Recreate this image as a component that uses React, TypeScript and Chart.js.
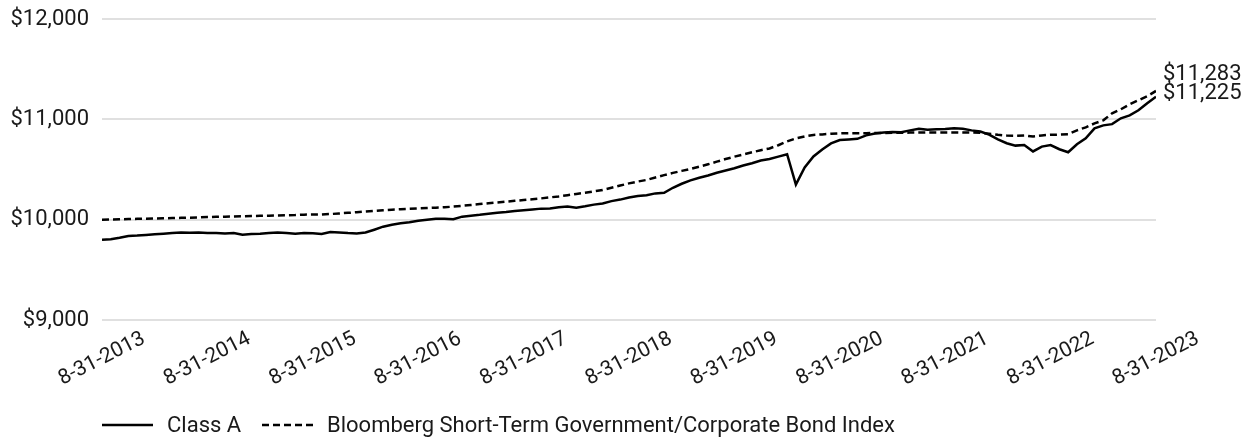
import React, { useEffect, useRef } from 'react';
import { Chart, registerables } from 'chart.js';

Chart.register(...registerables);

// Monthly values, 8-31-2013 .. 8-31-2023 (121 points)
const classA: number[] = [
  9800, 9805, 9820, 9838, 9842, 9848, 9855, 9860, 9866, 9872, 9870, 9872,
  9868, 9866, 9862, 9868, 9850, 9856, 9860, 9866, 9872, 9866, 9860, 9866,
  9864, 9858, 9878, 9872, 9866, 9862, 9872, 9900, 9930, 9950, 9964, 9975,
  9990, 10000, 10010, 10008, 10004, 10030, 10040, 10048, 10058, 10068, 10076, 10086,
  10094, 10102, 10110, 10112, 10124, 10132, 10120, 10134, 10150, 10162, 10185, 10200,
  10220, 10236, 10244, 10262, 10268, 10318, 10358, 10392, 10418, 10440, 10468, 10490,
  10512, 10540, 10562, 10590, 10604, 10628, 10652, 10350, 10520, 10630, 10700, 10760,
  10794, 10800, 10806, 10840, 10858, 10868, 10874, 10872, 10890, 10905, 10896, 10902,
  10904, 10912, 10906, 10890, 10878, 10848, 10800, 10762, 10738, 10745, 10680, 10728,
  10744, 10702, 10672, 10752, 10810, 10910, 10940, 10952, 11010, 11040, 11090, 11160,
  11225,
];

const bondIndex: number[] = [
  10000, 10002, 10004, 10006, 10008, 10010, 10012, 10014, 10016, 10018, 10020, 10022,
  10026, 10028, 10030, 10032, 10034, 10036, 10038, 10040, 10042, 10044, 10046, 10050,
  10052, 10052, 10056, 10062, 10068, 10074, 10082, 10088, 10094, 10100, 10104, 10108,
  10112, 10116, 10120, 10124, 10130, 10138, 10146, 10155, 10164, 10172, 10180, 10188,
  10196, 10204, 10212, 10222, 10232, 10244, 10256, 10268, 10282, 10296, 10318, 10340,
  10362, 10380, 10396, 10420, 10444, 10466, 10486, 10506, 10528, 10552, 10578, 10604,
  10628, 10650, 10672, 10692, 10710, 10742, 10780, 10810, 10830, 10844, 10850, 10856,
  10860, 10862, 10862, 10862, 10864, 10864, 10866, 10866, 10868, 10868, 10870, 10870,
  10870, 10870, 10869, 10868, 10866, 10856, 10846, 10838, 10836, 10840, 10828, 10840,
  10846, 10848, 10852, 10890, 10920, 10960, 10990, 11060, 11100, 11150, 11190, 11230,
  11283,
];

const xTickLabels: string[] = [
  '8-31-2013', '8-31-2014', '8-31-2015', '8-31-2016', '8-31-2017', '8-31-2018',
  '8-31-2019', '8-31-2020', '8-31-2021', '8-31-2022', '8-31-2023',
];

const seriesNames: string[] = [
  'Class A',
  'Bloomberg Short-Term Government/Corporate Bond Index',
];

const yMin = 9000;
const yMax = 12000;
const yStep = 1000;

const FONT = 'Roboto, "Liberation Sans", Arial, sans-serif';
const TEXT = '#1a1a1a';

const fmt = (v: number) => '$' + Math.round(v).toLocaleString('en-US');

export default function App() {
  const ref = useRef<HTMLCanvasElement | null>(null);

  useEffect(() => {
    document.body.style.margin = '0';
    const canvas = ref.current;
    if (!canvas) return;

    const overlay = {
      id: 'overlay',
      afterDraw(chart: any) {
        const c: CanvasRenderingContext2D = chart.ctx;
        const xs = chart.scales.x;
        const ys = chart.scales.y;
        const area = chart.chartArea;
        c.save();
        c.fillStyle = TEXT;

        // rotated x tick labels centred on each yearly tick
        c.font = `21px ${FONT}`;
        c.textAlign = 'center';
        c.textBaseline = 'middle';
        xTickLabels.forEach((lab, k) => {
          const x = xs.getPixelForValue(k * 12);
          c.save();
          c.translate(x, area.bottom + 39);
          c.rotate((-27 * Math.PI) / 180);
          c.fillText(lab, 0, 0);
          c.restore();
        });

        // end value labels
        c.font = `22px ${FONT}`;
        c.textAlign = 'left';
        const lastA = classA[classA.length - 1];
        const lastB = bondIndex[bondIndex.length - 1];
        const items = [lastA, lastB]
          .map((v) => ({ v, y: ys.getPixelForValue(v) - 3 }))
          .sort((a, b) => b.y - a.y);
        for (let i = 1; i < items.length; i++) {
          items[i].y = Math.min(items[i].y, items[i - 1].y - 19);
        }
        items.forEach((it) => c.fillText(fmt(it.v), area.right + 7, it.y));

        // legend
        const ly = 425;
        c.strokeStyle = '#000';
        c.lineWidth = 2.5;
        c.setLineDash([]);
        c.beginPath();
        c.moveTo(area.left, ly);
        c.lineTo(area.left + 51, ly);
        c.stroke();
        c.setLineDash([7, 4]);
        c.beginPath();
        c.moveTo(area.left + 160, ly);
        c.lineTo(area.left + 211, ly);
        c.stroke();
        c.setLineDash([]);
        c.font = `22px ${FONT}`;
        c.textBaseline = 'middle';
        c.fillText(seriesNames[0], area.left + 65, ly + 1);
        c.fillText(seriesNames[1], area.left + 225, ly + 1);
        c.restore();
      },
    };

    const chart = new Chart(canvas, {
      type: 'line',
      data: {
        datasets: [
          {
            label: seriesNames[0],
            data: classA.map((v, i) => ({ x: i, y: v })),
            borderColor: '#000',
            borderWidth: 2.5,
            pointRadius: 0,
            tension: 0,
            fill: false,
          },
          {
            label: seriesNames[1],
            data: bondIndex.map((v, i) => ({ x: i, y: v })),
            borderColor: '#000',
            borderWidth: 2.5,
            borderDash: [7, 4],
            pointRadius: 0,
            tension: 0,
            fill: false,
          },
        ],
      },
      options: {
        animation: false,
        responsive: false,
        maintainAspectRatio: false,
        layout: { padding: { top: 19, right: 92, left: 0, bottom: 0 } },
        plugins: {
          legend: { display: false },
          tooltip: { enabled: false },
        },
        scales: {
          x: {
            type: 'linear',
            min: 0,
            max: classA.length - 1,
            grid: { display: false },
            border: { display: false },
            ticks: { display: false },
            afterFit: (s: any) => {
              s.height = 121;
            },
          },
          y: {
            min: yMin,
            max: yMax,
            border: { display: false },
            grid: { color: '#e0e0e0', lineWidth: 2, drawTicks: false },
            ticks: {
              stepSize: yStep,
              padding: 13,
              color: TEXT,
              font: { family: FONT, size: 22 },
              callback: (v: any) => fmt(Number(v)),
            },
            afterFit: (s: any) => {
              s.width = 102;
              s.paddingTop = 0;
              s.paddingBottom = 0;
            },
          },
        },
      },
      plugins: [overlay],
    });

    return () => chart.destroy();
  }, []);

  return (
    <div style={{ width: 1248, height: 441 }}>
      <canvas ref={ref} width={1248} height={441} style={{ display: 'block' }} />
    </div>
  );
}
